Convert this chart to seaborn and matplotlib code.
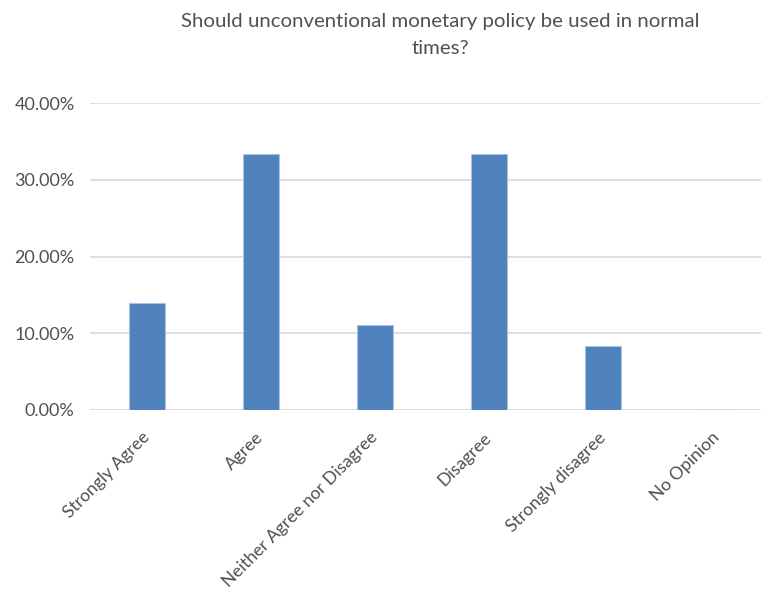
import matplotlib
matplotlib.use("Agg")
import matplotlib.pyplot as plt
import seaborn as sns
import pandas as pd
from matplotlib.ticker import PercentFormatter

categories = ["Strongly Agree", "Agree", "Neither Agree nor Disagree",
              "Disagree", "Strongly disagree", "No Opinion"]
shares = [0.1389, 0.3333, 0.1111, 0.3333, 0.0833, 0.0]
yticks = [0.0, 0.1, 0.2, 0.3, 0.4]
title = "Should unconventional monetary policy be used in normal\ntimes?"

sns.set_theme(style="white")
plt.rcParams["font.family"] = ["Lato", "DejaVu Sans"]

df = pd.DataFrame({"answer": categories, "share": shares})

fig = plt.figure(figsize=(7.61, 5.94), dpi=100)
ax = fig.add_axes([90 / 761, (594 - 410) / 594, (774 - 90) / 761, (410 - 103) / 594])

sns.barplot(data=df, x="answer", y="share", color="#4F81BD", saturation=1,
            width=0.31, edgecolor="#A9C2E0", linewidth=0.8, ax=ax, zorder=3)

text_color = "#505050"
ax.set_ylim(0, 0.4)
ax.set_xlim(-0.5, 5.5)
ax.set_yticks(yticks)
ax.yaxis.set_major_formatter(PercentFormatter(1.0, decimals=2))
ax.grid(axis="y", color="#D9D9D9", linewidth=1.2, zorder=0)
ax.grid(axis="x", visible=False)
for s in ax.spines.values():
    s.set_visible(False)
ax.set_xlabel("")
ax.set_ylabel("")
ax.tick_params(axis="y", length=0, colors=text_color, labelsize=13, pad=11)
ax.tick_params(axis="x", length=0, colors=text_color, labelsize=12.6, pad=18)
plt.setp(ax.get_xticklabels(), rotation=45, ha="right", va="center",
         rotation_mode="anchor")

fig.text(440 / 761, 1 - 35 / 594, title, ha="center", va="center",
         fontsize=14.7, color=text_color, linespacing=1.7)

fig.savefig("out.png", dpi=100, facecolor="white")
